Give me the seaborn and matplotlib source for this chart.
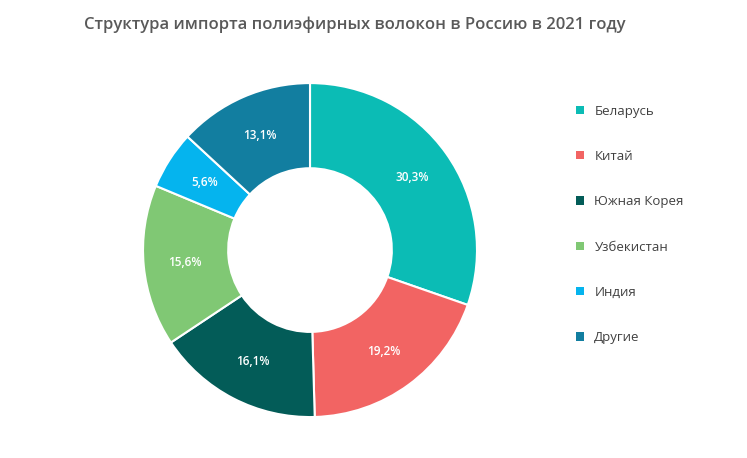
import seaborn as sns
import matplotlib.pyplot as plt
from matplotlib.patches import Patch

countries = ['Беларусь', 'Китай', 'Южная Корея', 'Узбекистан', 'Индия', 'Другие']
shares = [30.3, 19.2, 16.1, 15.6, 5.6, 13.1]
colors = ['#0BBCB5', '#F26463', '#035C58', '#80C874', '#05B4EE', '#127EA0']

sns.set_style('white')
plt.rcParams['font.family'] = ['Open Sans', 'DejaVu Sans']

fig = plt.figure(figsize=(7.47, 4.58), dpi=100)
ax = fig.add_axes([0.415 - 167 / 747, 0.454 - 0.3646, 334 / 747, 0.7292])

wedges, texts, autotexts = ax.pie(
    shares, colors=colors, startangle=90, counterclock=False,
    wedgeprops=dict(width=0.51, edgecolor='white', linewidth=1.5),
    autopct='%1.1f', pctdistance=0.75,
    textprops=dict(color='white', fontsize=8.5, fontweight='semibold'))
for t, v in zip(autotexts, shares):
    t.set_text(f'{v:.1f}'.replace('.', ',') + '%')
ax.set_xlim(-1, 1)
ax.set_ylim(-1, 1)
ax.set_aspect('equal')

fig.suptitle('Структура импорта полиэфирных волокон в Россию в 2021 году',
             x=0.475, y=0.965, fontsize=12, fontweight='semibold', color='#595959')

handles = [Patch(facecolor=c, edgecolor='none') for c in colors]
fig.legend(handles, countries, loc='center left', bbox_to_anchor=(0.755, 0.51),
           frameon=False, fontsize=9.5, labelcolor='#404040',
           handlelength=0.6, handleheight=0.6, labelspacing=2.45, handletextpad=0.8)

fig.savefig('out.png', dpi=100)
